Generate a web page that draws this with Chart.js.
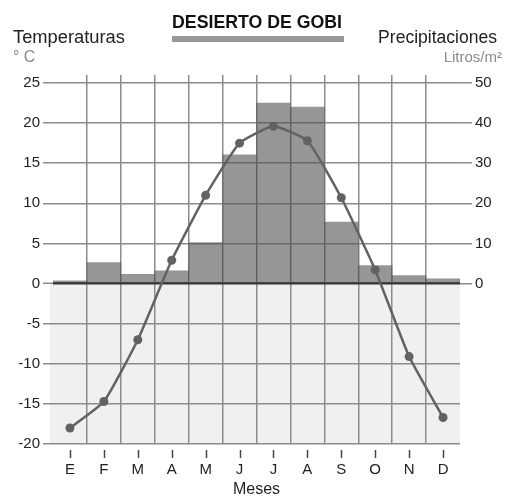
<!DOCTYPE html>
<html><head><meta charset="utf-8">
<script src="https://cdn.jsdelivr.net/npm/chart.js@4.4.1/dist/chart.umd.min.js"></script>
<style>html,body{margin:0;padding:0;background:#fff;}#wrap{width:517px;height:500px;position:relative}</style>
</head><body><div id="wrap"><canvas id="c" width="517" height="500"></canvas></div>
<script>
const months = ['E','F','M','A','M','J','J','A','S','O','N','D'];
const temperatures = [-18, -14.7, -7, 2.9, 11, 17.5, 19.6, 17.8, 10.7, 1.7, -9.1, -16.7];
const precipitation = [0.7, 5.2, 2.3, 3.2, 10.2, 32.1, 45, 44, 15.3, 4.5, 2, 1.2];
const tempTicks = [-20, -15, -10, -5, 0, 5, 10, 15, 20, 25];
const precipTicks = [0, 10, 20, 30, 40, 50];
const chartTitle = 'DESIERTO DE GOBI';
const leftTitle = 'Temperaturas';
const leftUnit = '° C';
const rightTitle = 'Precipitaciones';
const rightUnit = 'Litros/m²';
const xTitle = 'Meses';

const FAM = '"Liberation Sans", Arial, sans-serif';
const GRID = '#8c8c8c';
const hideEdges = c => (c.type === 'tick' && c.index > 0) ? GRID : 'rgba(0,0,0,0)';

function fitFont(ctx, text, weight, target) {
  ctx.font = weight + ' 16px ' + FAM;
  const w = ctx.measureText(text).width;
  return weight + ' ' + (16 * target / w).toFixed(2) + 'px ' + FAM;
}

const bgPlugin = {
  id: 'bg',
  beforeDraw(chart) {
    const {ctx, chartArea: a, scales} = chart;
    ctx.save();
    ctx.fillStyle = '#fff';
    ctx.fillRect(0, 0, chart.width, chart.height);
    const y0 = scales.y.getPixelForValue(0);
    ctx.fillStyle = '#f0f0f0';
    ctx.fillRect(a.left - 3, y0, a.right - a.left + 3, a.bottom - y0);
    ctx.restore();
  }
};

const decoPlugin = {
  id: 'deco',
  afterDraw(chart) {
    const {ctx, scales} = chart;
    const x = scales.x;
    ctx.save();
    ctx.strokeStyle = '#444';
    ctx.lineWidth = 1.5;
    for (let i = 0; i < months.length; i++) {
      const px = Math.round(x.getPixelForTick(i)) + 0.5;
      ctx.beginPath();
      ctx.moveTo(px, x.top + 6);
      ctx.lineTo(px, x.top + 14);
      ctx.stroke();
    }
    ctx.fillStyle = '#111';
    ctx.textBaseline = 'alphabetic';
    ctx.textAlign = 'center';
    ctx.font = fitFont(ctx, chartTitle, 'bold', 170);
    ctx.fillText(chartTitle, 257, 28);
    ctx.fillStyle = '#999';
    ctx.fillRect(172, 36, 172, 6);
    ctx.fillStyle = '#222';
    ctx.textAlign = 'left';
    ctx.font = fitFont(ctx, leftTitle, 'normal', 112);
    ctx.fillText(leftTitle, 13, 43);
    ctx.textAlign = 'right';
    ctx.font = fitFont(ctx, rightTitle, 'normal', 119);
    ctx.fillText(rightTitle, 497, 43);
    ctx.fillStyle = '#8a8a8a';
    ctx.font = 'normal 16px ' + FAM;
    ctx.textAlign = 'left';
    ctx.fillText(leftUnit, 13, 62);
    ctx.textAlign = 'right';
    ctx.font = 'normal 15px ' + FAM;
    ctx.fillText(rightUnit, 502, 62);
    ctx.restore();
  }
};

new Chart(document.getElementById('c'), {
  data: {
    labels: months,
    datasets: [
      {
        type: 'line', label: leftTitle, data: temperatures, yAxisID: 'y', xAxisID: 'x', order: 0,
        borderColor: '#626262', backgroundColor: '#626262', borderWidth: 2.5,
        pointRadius: 4.5, pointBackgroundColor: '#626262', pointBorderWidth: 0,
        tension: 0.15, fill: false
      },
      {
        type: 'bar', label: rightTitle, data: precipitation, yAxisID: 'y1', xAxisID: 'x', order: 1,
        backgroundColor: 'rgba(80,80,80,0.6)', borderWidth: 0,
        barPercentage: 1, categoryPercentage: 1
      }
    ]
  },
  options: {
    responsive: false, animation: false, devicePixelRatio: 1,
    layout: {padding: {top: 75, left: 0, right: 0, bottom: 0}},
    plugins: {legend: {display: false}, tooltip: {enabled: false}, title: {display: false}},
    scales: {
      x: {
        type: 'category', position: 'bottom', offset: true,
        grid: {offset: true, drawTicks: false, color: hideEdges, lineWidth: 1.5},
        border: {display: false},
        ticks: {padding: 17, color: '#222', font: {size: 15, family: FAM}, maxRotation: 0, autoSkip: false},
        title: {display: true, text: xTitle, color: '#222', font: {size: 16, family: FAM}, padding: {top: 0, bottom: 1}},
        afterFit(s) { s.height = 56; }
      },
      xTop: {
        type: 'category', position: 'top', offset: true,
        grid: {offset: true, drawOnChartArea: false, drawTicks: true, tickLength: 8, color: hideEdges, lineWidth: 1.5},
        border: {display: false},
        ticks: {display: false},
        afterFit(s) { s.height = 8; }
      },
      y: {
        position: 'left', min: -20, max: 25,
        afterBuildTicks(s) { s.ticks = tempTicks.map(v => ({value: v})); },
        grid: {
          color: c => (c.tick && c.tick.value === 0) ? '#333' : GRID,
          lineWidth: c => (c.tick && c.tick.value === 0) ? 2.5 : 1.5,
          tickColor: GRID, tickWidth: 1.5, tickLength: 10
        },
        border: {display: false},
        ticks: {padding: 3, color: '#222', font: {size: 15, family: FAM}},
        afterFit(s) { s.width = 53; }
      },
      y1: {
        position: 'right', min: -40, max: 50,
        afterBuildTicks(s) { s.ticks = precipTicks.map(v => ({value: v})); },
        grid: {drawOnChartArea: false, tickLength: 12, color: GRID, lineWidth: 1.5},
        border: {display: false},
        ticks: {padding: 3, color: '#222', font: {size: 15, family: FAM}},
        afterFit(s) { s.width = 57; }
      }
    }
  },
  plugins: [bgPlugin, decoPlugin]
});
</script></body></html>
